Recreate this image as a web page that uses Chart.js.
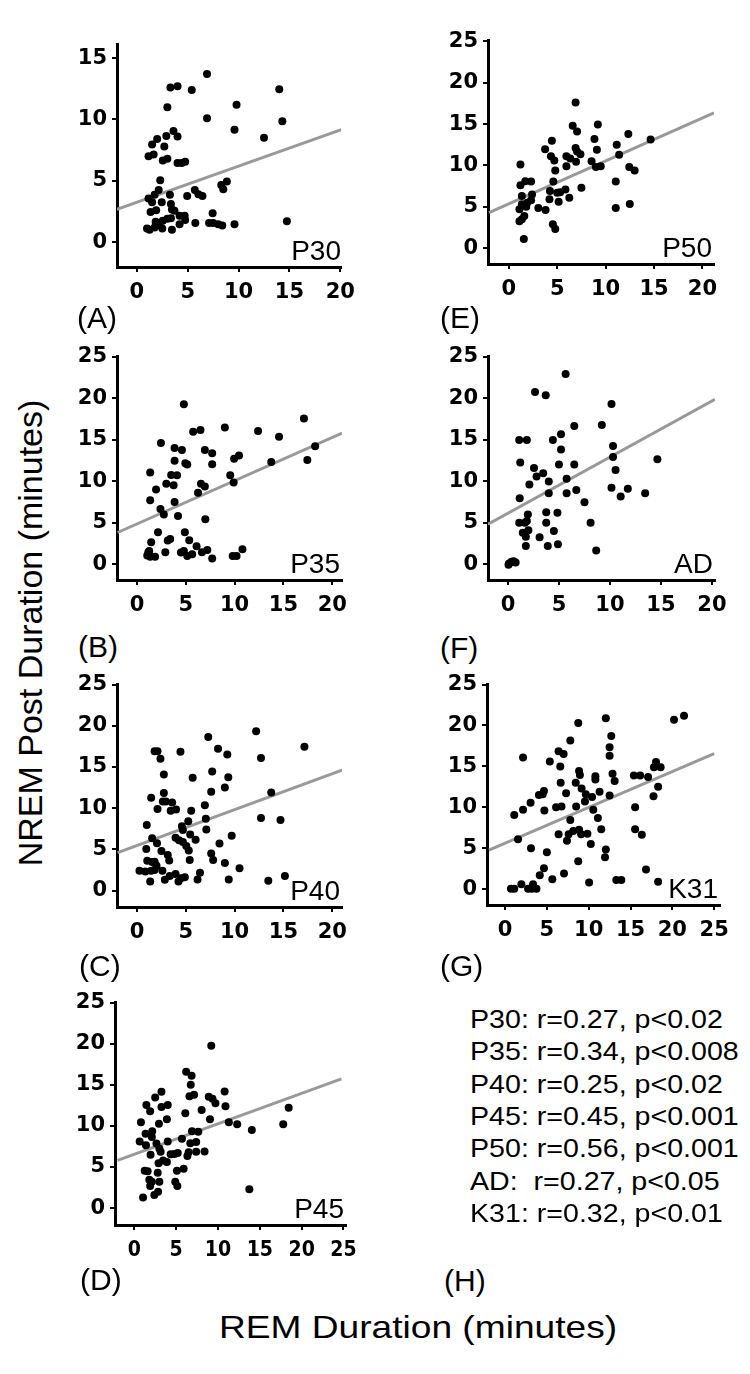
<!DOCTYPE html>
<html>
<head>
<meta charset="utf-8">
<script src="https://cdn.jsdelivr.net/npm/chart.js@4.4.0/dist/chart.umd.min.js"></script>
<style>
  body { margin: 0; background: #fff; }
  #page {
    position: relative; width: 750px; height: 1374px; overflow: hidden;
    font-family: "Liberation Sans", Arial, sans-serif; color: #000;
  }
  #page canvas { position: absolute; }
  .txt { position: absolute; white-space: pre; line-height: 1; }
</style>
</head>
<body>
<div id="page"></div>
<script>
// tick values
const ticks15 = [0, 5, 10, 15];
const ticks20 = [0, 5, 10, 15, 20];
const ticks25 = [0, 5, 10, 15, 20, 25];

// points: [REM duration, NREM post duration]
const p30 = [[6.9,13.7],[3.3,12.6],[4.0,12.7],[5.4,12.4],[14.0,12.45],[3.0,11.0],[9.8,11.2],[6.9,10.1],[14.3,9.85],[9.6,9.15],[12.5,8.5],[3.6,9.05],[2.9,8.65],[4.0,8.6],[2.0,8.4],[1.5,7.95],[2.7,7.8],[1.65,7.15],[1.15,7.0],[3.0,6.8],[2.55,6.65],[4.0,6.45],[4.4,6.45],[4.75,6.55],[2.3,5.05],[8.3,4.65],[8.85,4.95],[8.5,4.3],[5.7,4.25],[6.05,3.9],[6.45,3.75],[4.95,3.75],[3.25,3.85],[2.15,4.25],[1.75,3.85],[1.15,3.55],[1.5,3.25],[2.45,3.25],[3.35,3.1],[3.45,2.65],[3.7,2.55],[1.9,2.6],[1.35,2.45],[7.45,2.35],[4.2,2.15],[4.7,2.15],[4.75,1.8],[3.0,1.9],[3.35,1.95],[2.55,1.75],[5.75,1.55],[7.1,1.55],[7.5,1.55],[8.0,1.45],[8.4,1.35],[9.6,1.45],[14.75,1.7],[4.2,1.45],[1.85,1.65],[2.2,1.5],[1.75,1.2],[1.0,1.1],[1.25,1.0],[2.5,1.1],[3.45,1.0],[1.95,1.4]];
const p35 = [[4.8,19.25],[17.1,17.55],[9.0,16.45],[12.4,16.05],[5.75,15.95],[6.5,16.15],[14.55,15.35],[2.45,14.6],[18.25,14.2],[3.85,14.0],[4.6,13.75],[6.95,13.75],[7.7,13.35],[13.75,12.3],[17.45,12.55],[10.45,13.1],[9.95,12.7],[3.85,12.45],[4.95,12.15],[5.15,12.0],[7.7,12.05],[1.35,11.05],[3.5,10.75],[4.1,10.7],[9.55,10.7],[3.0,9.7],[3.75,9.5],[6.55,9.7],[6.95,9.35],[9.9,9.85],[1.95,9.0],[6.25,8.6],[1.35,7.7],[3.85,7.5],[2.4,6.65],[2.75,6.0],[4.2,5.8],[7.0,5.4],[2.15,3.85],[4.9,3.85],[3.15,2.85],[3.4,3.05],[1.45,2.65],[5.35,2.9],[6.1,2.15],[7.2,1.7],[10.8,1.8],[2.9,1.45],[4.5,1.4],[4.8,1.6],[5.65,1.2],[6.65,1.45],[5.15,1.0],[1.15,1.4],[1.05,1.05],[1.35,0.9],[1.85,0.9],[7.7,0.7],[9.8,1.0],[10.2,1.0],[1.25,1.6]];
const p40 = [[12.2,19.35],[7.3,18.65],[17.15,17.45],[8.3,17.2],[1.8,16.9],[2.1,16.9],[4.45,16.85],[9.25,16.5],[12.7,16.1],[2.4,16.0],[7.7,14.45],[2.75,14.1],[9.35,13.75],[5.7,13.7],[7.6,12.0],[9.0,12.5],[13.75,11.9],[2.75,11.85],[1.45,11.25],[2.65,10.8],[2.95,10.8],[3.6,10.7],[2.1,9.9],[3.45,9.7],[4.0,9.85],[6.95,10.35],[5.55,9.7],[7.05,8.7],[12.7,8.8],[14.7,8.55],[5.25,8.4],[1.0,7.95],[4.6,7.8],[4.7,7.35],[7.1,7.4],[5.45,6.8],[9.7,6.65],[1.55,6.35],[3.95,6.4],[4.3,6.1],[6.0,6.15],[0.95,5.05],[2.05,5.75],[2.5,4.8],[4.7,5.9],[5.05,5.4],[5.3,4.85],[8.45,5.7],[7.6,4.5],[7.8,3.7],[9.0,3.35],[10.5,2.7],[5.4,3.7],[3.15,4.3],[3.3,3.65],[1.05,3.6],[1.55,3.45],[1.8,3.5],[2.0,3.0],[0.25,2.4],[0.85,2.3],[1.45,2.4],[1.8,2.5],[2.6,2.4],[1.35,1.1],[2.85,1.3],[3.35,1.75],[3.95,2.0],[4.25,1.1],[4.5,1.5],[4.9,1.6],[6.2,1.35],[6.45,2.15],[9.4,1.35],[13.45,1.2],[15.15,1.75]];
const p45 = [[9.2,19.75],[6.2,16.6],[6.85,16.1],[6.75,15.0],[3.25,14.15],[2.5,13.45],[6.6,13.6],[7.15,13.8],[8.9,13.55],[9.35,13.3],[9.7,12.75],[10.8,14.2],[1.45,12.55],[4.0,12.55],[1.9,11.8],[3.25,12.3],[10.9,12.4],[18.45,12.2],[6.1,11.55],[8.05,11.95],[0.8,10.45],[2.95,10.25],[3.9,10.8],[9.05,10.8],[11.3,10.45],[12.3,10.2],[17.8,10.2],[14.05,9.5],[1.35,9.05],[2.15,9.35],[6.9,9.35],[7.65,9.3],[0.65,8.1],[2.1,8.65],[5.7,8.45],[4.0,8.1],[1.4,7.65],[2.65,7.85],[3.0,7.25],[6.7,7.9],[7.4,8.05],[1.95,6.5],[3.15,6.85],[4.35,6.55],[4.8,6.6],[5.2,6.7],[6.5,6.8],[7.4,6.85],[8.4,6.9],[6.35,6.35],[3.45,5.8],[3.9,5.6],[2.9,5.45],[1.25,4.55],[1.6,4.5],[2.8,4.3],[5.1,4.55],[5.9,4.8],[1.8,3.45],[2.1,3.2],[1.9,2.7],[3.0,3.2],[4.9,3.2],[5.15,2.7],[2.85,2.0],[2.4,1.6],[1.05,1.3],[13.75,2.3]];
const p50 = [[6.9,17.6],[6.6,14.8],[9.2,14.95],[7.05,14.1],[12.35,13.8],[4.45,13.0],[14.65,13.15],[8.85,13.2],[11.15,12.5],[3.75,11.95],[6.9,12.1],[9.1,11.9],[7.05,11.7],[7.4,11.35],[5.95,11.1],[11.4,11.3],[4.35,11.1],[4.7,10.6],[6.35,10.85],[6.95,10.45],[8.55,10.5],[1.2,10.1],[5.95,9.9],[9.0,9.8],[9.5,9.9],[12.45,9.8],[13.0,9.4],[4.8,9.4],[11.05,8.05],[1.7,8.1],[2.3,8.05],[1.2,7.6],[4.6,8.05],[7.5,7.3],[5.85,7.1],[4.25,6.9],[5.3,6.75],[5.0,6.7],[1.35,6.3],[2.4,6.5],[6.25,6.1],[4.2,5.9],[5.15,5.6],[2.3,5.8],[1.9,5.5],[1.35,5.3],[1.8,5.0],[3.05,4.85],[3.8,4.6],[1.1,4.7],[11.05,4.85],[12.5,5.35],[1.6,3.9],[1.35,3.5],[1.1,3.25],[4.55,2.9],[4.8,2.3],[1.55,1.1]];
const ad = [[5.65,22.9],[2.65,20.75],[3.7,20.35],[10.15,19.3],[6.5,16.65],[9.2,16.75],[5.2,15.65],[1.1,14.95],[1.85,14.95],[4.4,14.95],[5.2,13.8],[10.3,14.25],[10.3,12.9],[14.65,12.65],[1.2,12.25],[5.0,12.0],[6.5,12.0],[10.55,11.35],[2.55,11.6],[3.45,10.95],[2.8,10.55],[5.75,10.3],[4.0,9.95],[2.1,9.6],[4.0,8.55],[5.75,8.55],[6.7,8.95],[10.15,9.2],[11.75,9.1],[11.05,8.15],[13.45,8.55],[1.15,7.95],[7.5,7.45],[1.95,6.0],[3.75,6.25],[4.85,6.2],[1.1,5.0],[1.65,5.0],[1.85,5.2],[3.75,5.0],[8.1,5.0],[2.0,4.1],[1.45,3.8],[4.5,4.0],[1.75,3.3],[3.1,3.25],[1.75,2.2],[3.9,2.2],[4.9,2.4],[8.65,1.65],[0.1,0.1],[0.35,0.3],[0.75,0.2],[0.05,-0.05],[0.55,0.35]];
const k31 = [[21.4,21.2],[20.2,20.7],[12.05,20.9],[8.75,20.3],[12.7,18.7],[7.8,18.15],[12.5,17.35],[12.5,16.3],[2.15,16.1],[6.4,16.85],[7.0,16.5],[5.35,15.6],[6.6,15.0],[18.05,15.55],[18.6,14.9],[17.8,14.9],[8.85,14.45],[8.95,13.95],[10.8,13.8],[12.85,14.1],[15.4,13.9],[16.15,13.9],[17.1,13.7],[10.8,13.4],[13.1,13.2],[6.65,13.0],[8.45,13.0],[9.15,12.3],[18.3,12.5],[4.65,12.0],[4.5,11.6],[4.05,11.5],[7.3,11.7],[9.65,11.6],[10.4,11.25],[11.3,11.9],[12.5,11.45],[17.75,11.35],[9.55,10.7],[3.05,10.55],[2.15,9.7],[1.1,9.05],[4.7,9.6],[6.1,10.0],[6.75,10.1],[8.5,10.1],[15.55,10.0],[10.55,9.7],[7.8,8.45],[11.1,8.7],[11.5,7.3],[15.55,7.3],[16.35,6.65],[6.4,6.7],[7.6,6.7],[8.15,7.1],[8.85,7.25],[9.1,6.7],[9.85,6.75],[7.4,5.9],[1.55,6.1],[3.1,5.0],[10.25,5.5],[12.05,4.85],[11.95,3.9],[5.0,4.5],[8.75,3.4],[4.65,2.55],[16.85,2.4],[4.15,1.7],[7.05,1.9],[5.65,1.2],[10.05,0.8],[13.3,1.1],[13.9,1.1],[18.3,0.9],[1.95,0.6],[0.7,0.05],[1.1,0.05],[2.75,0.05],[3.35,0.6],[3.2,0.05],[3.75,0.05]];

// regression line end points
const p30Line = [[-1.96, 2.67], [20.1, 9.17]];
const p35Line = [[-1.98, 3.82], [21.0, 15.8]];
const p40Line = [[-1.98, 4.6], [21.0, 14.62]];
const p45Line = [[-2.0, 5.82], [24.75, 15.72]];
const p50Line = [[-2.05, 4.28], [21.2, 16.37]];
const adLine = [[-1.96, 4.82], [20.3, 19.85]];
const k31Line = [[-1.93, 4.76], [25.0, 16.56]];

const stats = [
  "P30: r=0.27, p<0.02",
  "P35: r=0.34, p<0.008",
  "P40: r=0.25, p<0.02",
  "P45: r=0.45, p<0.001",
  "P50: r=0.56, p<0.001",
  "AD:  r=0.27, p<0.05",
  "K31: r=0.32, p<0.01",
];

// layout of each panel (plot area in page pixels)
const panels = [
  { name: "P30", pts: p30, line: p30Line, area: [117, 43, 343, 267], xr: [-1.95, 20.1], yr: [-2.03, 16.1], xt: ticks20, yt: ticks15, letter: "(A)", lp: [77, 318] },
  { name: "P50", pts: p50, line: p50Line, area: [488, 39, 714, 264], xr: [-2.15, 21.2], yr: [-1.92, 25.1], xt: ticks20, yt: ticks25, letter: "(E)", lp: [440, 318] },
  { name: "P35", pts: p35, line: p35Line, area: [117, 355, 342, 580], xr: [-2.05, 21.0], yr: [-1.9, 25], xt: ticks20, yt: ticks25, letter: "(B)", lp: [78, 647] },
  { name: "AD", pts: ad, line: adLine, area: [488, 355, 715, 580], xr: [-1.96, 20.3], yr: [-1.9, 25], xt: ticks20, yt: ticks25, letter: "(F)", lp: [440, 648] },
  { name: "P40", pts: p40, line: p40Line, area: [117, 683, 342, 907], xr: [-2.05, 21.0], yr: [-2.0, 25], xt: ticks20, yt: ticks25, letter: "(C)", lp: [79, 966] },
  { name: "K31", pts: k31, line: k31Line, area: [487, 683, 720, 905], xr: [-2.16, 25.7], yr: [-1.95, 25], xt: ticks25, yt: ticks25, letter: "(G)", lp: [440, 966] },
  { name: "P45", pts: p45, line: p45Line, area: [115, 1001, 346, 1225], xr: [-2.3, 25.3], yr: [-2.05, 25], xt: ticks25, yt: ticks25, letter: "(D)", lp: [80, 1280], narrowX: true },
];

const page = document.getElementById("page");
const YW = 62, XH = 50, PT = 16, PR = 20;
const tickFamily = '"DejaVu Sans", "Liberation Sans", Arial, sans-serif';
const narrowFamily = '"DejaVu Sans Condensed", "Liberation Sans Narrow", "Liberation Sans", Arial, sans-serif';

function addText(str, left, top, size, extra) {
  const d = document.createElement("div");
  d.className = "txt";
  d.textContent = str;
  d.style.left = left + "px";
  d.style.top = top + "px";
  d.style.fontSize = size + "px";
  if (extra) Object.assign(d.style, extra);
  page.appendChild(d);
  return d;
}

function axisOpts(range, tickVals, fit, pad, family) {
  return {
    type: "linear",
    min: range[0],
    max: range[1],
    afterBuildTicks: (s) => { s.ticks = tickVals.map((v) => ({ value: v })); },
    afterFit: fit,
    border: { display: true, color: "#000", width: 3 },
    grid: { display: true, drawOnChartArea: false, drawTicks: true, tickLength: 5, color: "#000", lineWidth: 2 },
    ticks: { color: "#000", font: { family: family, size: 21, weight: "bold" }, padding: pad, maxRotation: 0, autoSkip: false },
  };
}

function makePanel(p) {
  const [x0, y0, x1, y1] = p.area;
  const w = x1 - x0 + YW + PR;
  const h = y1 - y0 + PT + XH;
  const cv = document.createElement("canvas");
  cv.width = w;
  cv.height = h;
  cv.style.left = (x0 - YW) + "px";
  cv.style.top = (y0 - PT) + "px";
  cv.style.width = w + "px";
  cv.style.height = h + "px";
  page.appendChild(cv);

  new Chart(cv, {
    type: "scatter",
    data: {
      datasets: [
        {
          label: p.name,
          data: p.pts.map(([x, y]) => ({ x, y })),
          backgroundColor: "#000",
          borderWidth: 0,
          pointRadius: 4,
          order: 0,
        },
        {
          type: "line",
          label: p.name + " fit",
          data: p.line.map(([x, y]) => ({ x, y })),
          borderColor: "#999999",
          borderWidth: 3,
          pointRadius: 0,
          fill: false,
          order: 1,
        },
      ],
    },
    options: {
      responsive: false,
      animation: false,
      devicePixelRatio: 1,
      layout: { padding: { top: PT, right: PR, left: 0, bottom: 0 } },
      plugins: { legend: { display: false }, tooltip: { enabled: false } },
      scales: {
        x: axisOpts(p.xr, p.xt, (s) => { s.height = XH; }, 8, p.narrowX ? narrowFamily : tickFamily),
        y: axisOpts(p.yr, p.yt, (s) => { s.width = YW; }, 5, tickFamily),
      },
    },
  });

  // series name in the lower right corner of the plot
  const lab = addText(p.name, 0, y1 - 30, 28, { textAlign: "right", width: "80px" });
  lab.style.left = (x1 - 2 - 80) + "px";
  // panel letter
  addText(p.letter, p.lp[0], p.lp[1] - 15, 30);
}

panels.forEach(makePanel);

// (H) and the statistics block
addText("(H)", 444, 1281 - 15, 30);
stats.forEach((s, i) =>
  addText(s, 470, 1019 + i * 32.3 - 13, 26, { transform: "scaleX(1.1)", transformOrigin: "0 50%" })
);

// axis titles
addText("NREM Post Duration (minutes)", 30, 633, 34, { transform: "translate(-50%, -50%) rotate(-90deg)" });
addText("REM Duration (minutes)", 418, 1327, 32, { transform: "translate(-50%, -50%) scaleX(1.16)" });
</script>
</body>
</html>
